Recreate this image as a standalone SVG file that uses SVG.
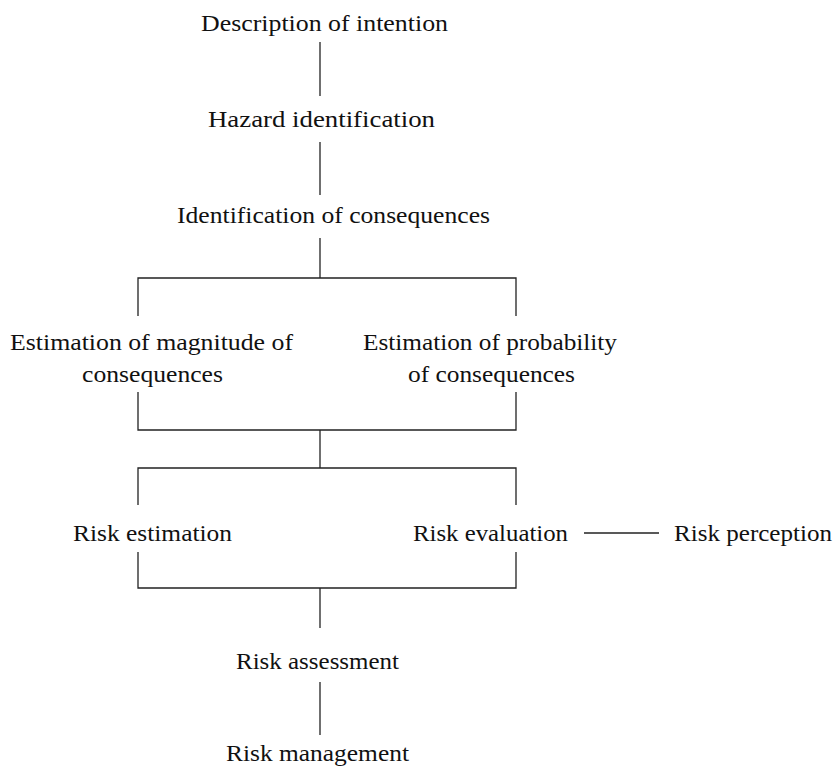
<svg xmlns="http://www.w3.org/2000/svg" width="837" height="767" viewBox="0 0 837 767">
<style>
text{font-family:'Liberation Serif','Times New Roman',Times,serif;font-size:24px;fill:#111}
.c path{fill:none;stroke:#222;stroke-width:1.3}
</style>
<rect width="837" height="767" fill="#fff"/>
<g class="c" id="connectors">
<path d="M320 42V96"/>
<path d="M320 142V195"/>
<path d="M320 238V278"/>
<path d="M138 316V278H516V316"/>
<path d="M138 392V430H516V392"/>
<path d="M320 430V468"/>
<path d="M138 505V468H516V505"/>
<path d="M138 552V588H516V552"/>
<path d="M320 588V628"/>
<path d="M320 682V735"/>
<path d="M584 533H659"/>
</g>
<g id="n1"><text x="201" y="31" textLength="247" lengthAdjust="spacingAndGlyphs">Description of intention</text></g>
<g id="n2"><text x="208" y="127" textLength="227" lengthAdjust="spacingAndGlyphs">Hazard identification</text></g>
<g id="n3"><text x="177" y="223" textLength="313" lengthAdjust="spacingAndGlyphs">Identification of consequences</text></g>
<g id="n4"><text x="10" y="350" textLength="283" lengthAdjust="spacingAndGlyphs">Estimation of magnitude of</text><text x="82" y="382" textLength="141" lengthAdjust="spacingAndGlyphs">consequences</text></g>
<g id="n5"><text x="363" y="350" textLength="254" lengthAdjust="spacingAndGlyphs">Estimation of probability</text><text x="408" y="382" textLength="167" lengthAdjust="spacingAndGlyphs">of consequences</text></g>
<g id="n6"><text x="73" y="541" textLength="159" lengthAdjust="spacingAndGlyphs">Risk estimation</text></g>
<g id="n7"><text x="413" y="541" textLength="155" lengthAdjust="spacingAndGlyphs">Risk evaluation</text></g>
<g id="n8"><text x="674" y="541" textLength="158" lengthAdjust="spacingAndGlyphs">Risk perception</text></g>
<g id="n9"><text x="236" y="669" textLength="163" lengthAdjust="spacingAndGlyphs">Risk assessment</text></g>
<g id="n10"><text x="226" y="761" textLength="183" lengthAdjust="spacingAndGlyphs">Risk management</text></g>
</svg>
